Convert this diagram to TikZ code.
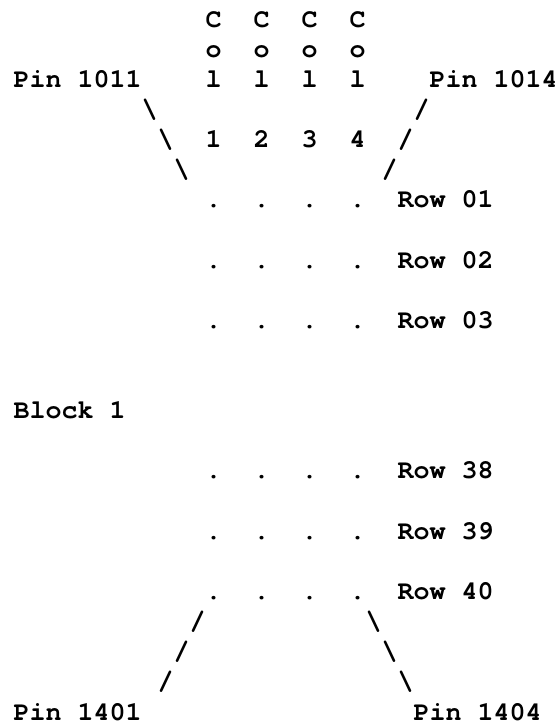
\documentclass[tikz,border=0pt]{standalone}
\usepackage{fontspec}
\setmonofont{TeX Gyre Cursor}
\usetikzlibrary{positioning}

\tikzset{ch/.style={inner sep=0pt,anchor=base west,
  font=\ttfamily\bfseries\fontsize{26.67}{30.13}\selectfont}}

\begin{document}
\begin{tikzpicture}[x=16pt,y=-30.13pt]
  \useasboundingbox (-0.84375,-0.8961) rectangle (34.09375,23.1994);
  \foreach \i/\c in {1/12,2/15,3/18,4/21} {
    \node[ch] (C\i) at (\c,0) {C};
    \node[ch] (o\i) at (\c,1) {o};
    \node[ch] (l\i) at (\c,2) {l};
    \node[ch] (n\i) at (\c,4) {\i};
  }
  \node[ch] (p1011) at (0,2) {Pin 1011};
  \node[ch] (p1014) at (26,2) {Pin 1014};
  \node[ch] (bs1) at (8,3) {\textbackslash};
  \node[ch] (bs2) at (9,4) {\textbackslash};
  \node[ch] (bs3) at (10,5) {\textbackslash};
  \node[ch] (sl1) at (25,3) {/};
  \node[ch] (sl2) at (24,4) {/};
  \node[ch] (sl3) at (23,5) {/};
  \foreach \r/\y in {01/6,02/8,03/10,38/15,39/17,40/19} {
    \foreach \c in {12,15,18,21}
      \node[ch] (d\r-\c) at (\c,\y) {.};
    \node[ch] (row\r) at (24,\y) {Row \r};
  }
  \node[ch] (blk) at (0,13) {Block 1};
  \node[ch] (sl4) at (11,20) {/};
  \node[ch] (sl5) at (10,21) {/};
  \node[ch] (sl6) at (9,22) {/};
  \node[ch] (bs4) at (22,20) {\textbackslash};
  \node[ch] (bs5) at (23,21) {\textbackslash};
  \node[ch] (bs6) at (24,22) {\textbackslash};
  \node[ch] (p1401) at (0,23) {Pin 1401};
  \node[ch] (p1404) at (25,23) {Pin 1404};
\end{tikzpicture}
\end{document}
